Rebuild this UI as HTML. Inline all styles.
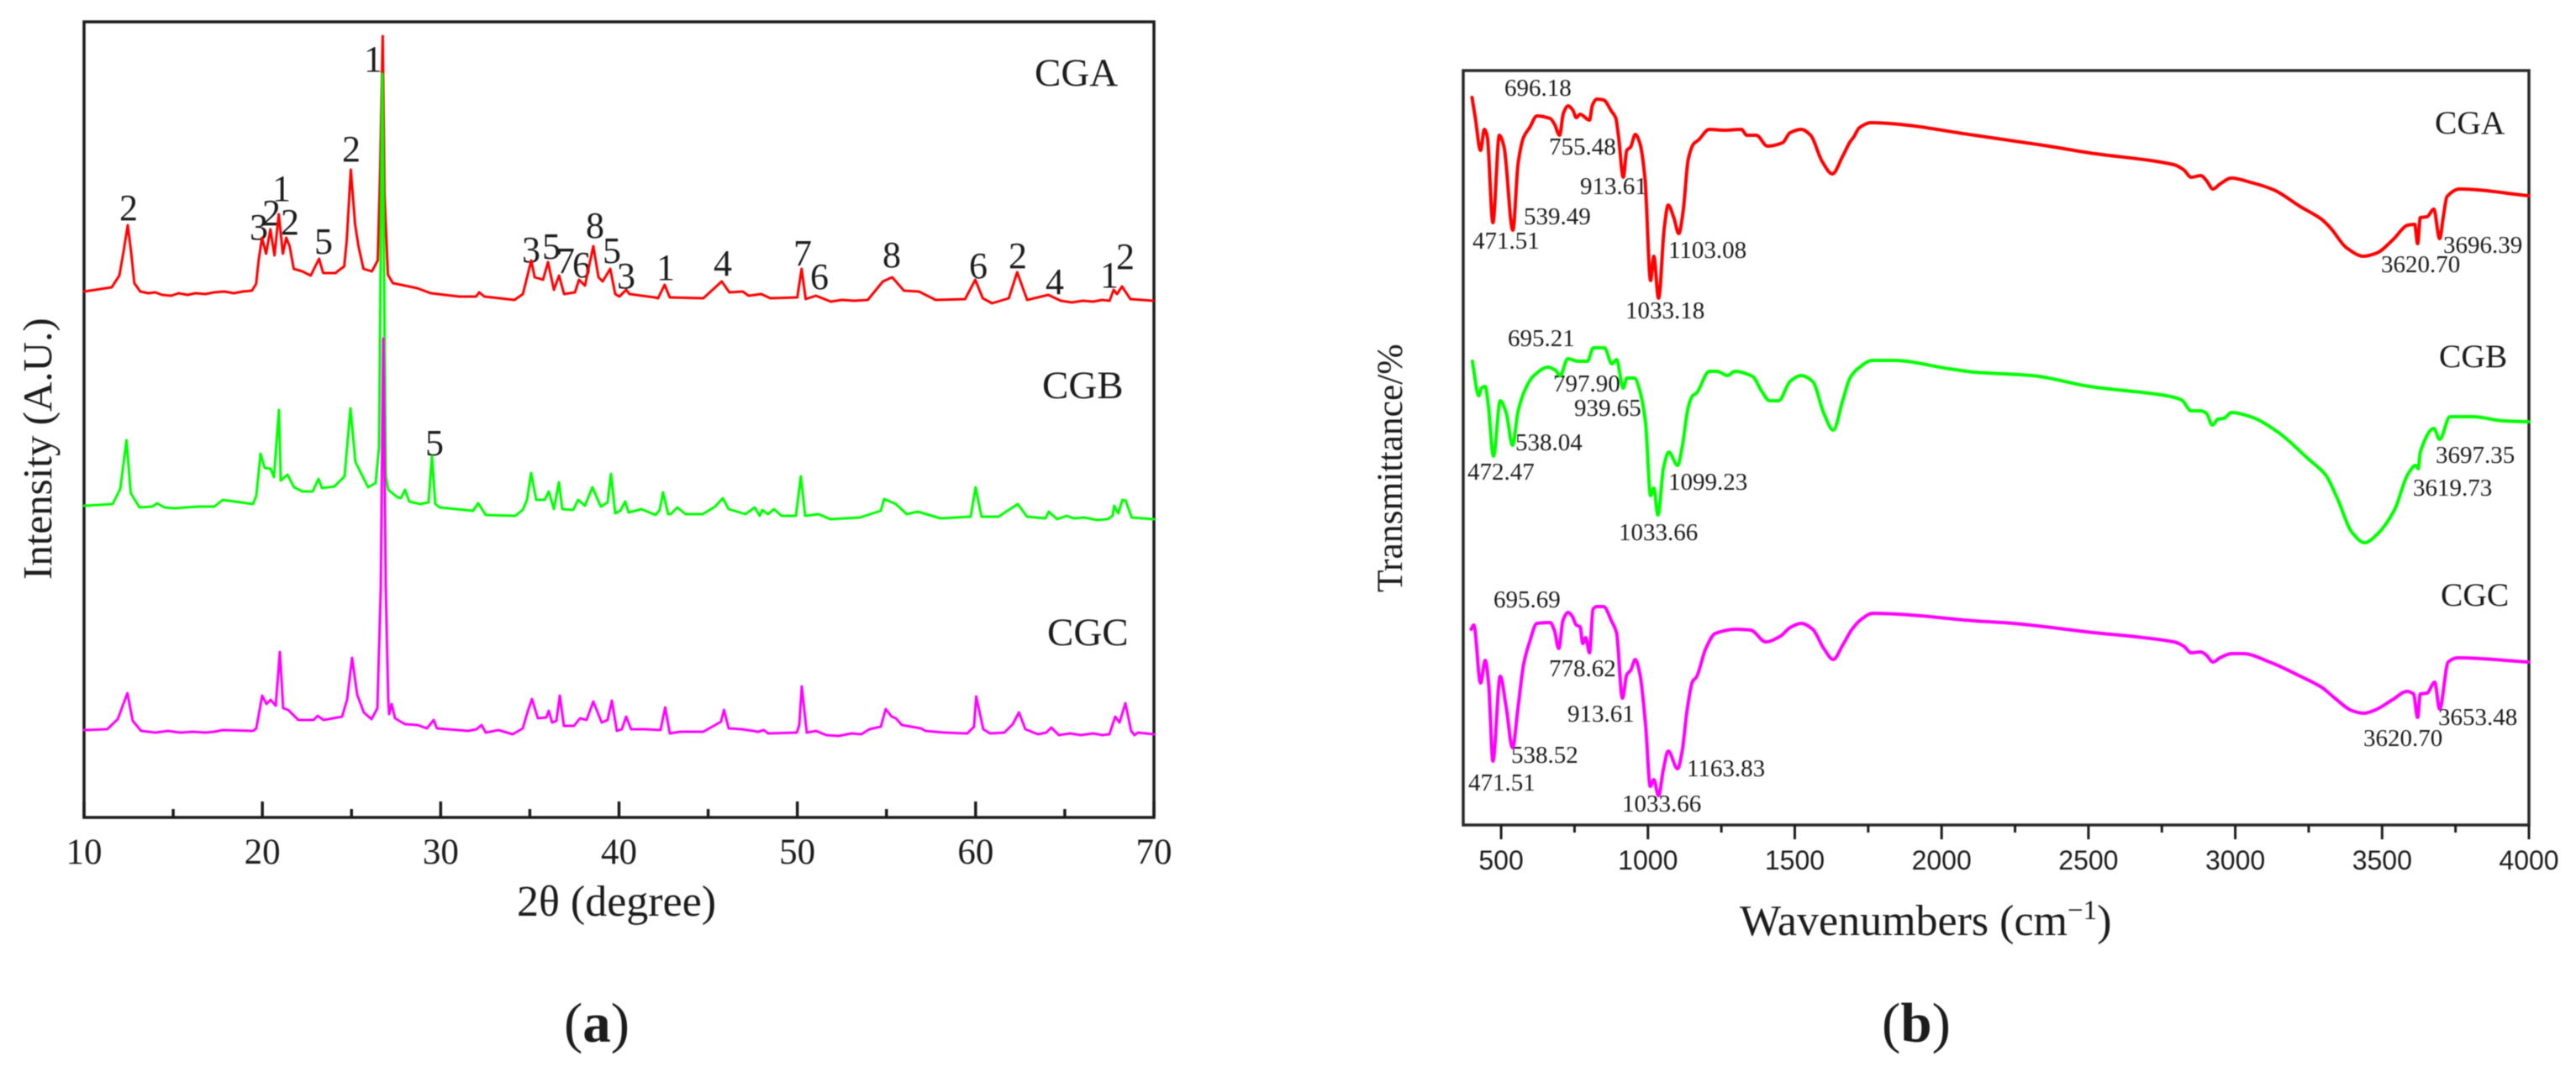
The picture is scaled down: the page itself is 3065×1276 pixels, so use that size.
<!DOCTYPE html>
<html lang="en">
<head>
<meta charset="utf-8">
<title>XRD and FTIR spectra of CGA, CGB and CGC</title>
<style>
html,body{margin:0;padding:0;background:#fff;}
svg{display:block;filter:blur(0.6px);}
text{font-family:"Liberation Serif",serif;fill:#1c1c1c;}
.num{font-size:44px;text-anchor:middle;}
.ft{font-size:29px;}
.tick-a{font-size:43px;text-anchor:middle;}
.tick-b{font-family:"Liberation Sans",sans-serif;font-size:32px;text-anchor:middle;}
</style>
</head>
<body>
<svg id="fig" xmlns="http://www.w3.org/2000/svg" width="3065" height="1276" viewBox="0 0 3065 1276">
<rect width="3065" height="1276" fill="#fff"/>
<g id="panelA">
<rect x="100" y="26" width="1273" height="947" fill="none" stroke="#1c1c1c" stroke-width="3.5"/>
<text transform="translate(61,690) rotate(-90)" font-size="49">Intensity (A.U.)</text>
<text x="615" y="1090" font-size="52">2θ (degree)</text>
<text x="710" y="1240" font-size="67" text-anchor="middle">(<tspan font-weight="bold">a</tspan>)</text>
<text class="sample" x="1231" y="102" font-size="47">CGA</text>
<text class="sample" x="1240" y="474" font-size="47">CGB</text>
<text class="sample" x="1246" y="768" font-size="47">CGC</text>
<g>
<text class="num" x="153" y="262">2</text>
<text class="num" x="308" y="285">3</text>
<text class="num" x="323" y="268">2</text>
<text class="num" x="335" y="239">1</text>
<text class="num" x="345" y="279">2</text>
<text class="num" x="385" y="302">5</text>
<text class="num" x="444" y="85">1</text>
<text class="num" x="418" y="192">2</text>
<text class="num" x="632" y="312">3</text>
<text class="num" x="656" y="308">5</text>
<text class="num" x="673" y="325">7</text>
<text class="num" x="692" y="330">6</text>
<text class="num" x="708" y="283">8</text>
<text class="num" x="728" y="313">5</text>
<text class="num" x="745" y="343">3</text>
<text class="num" x="792" y="333">1</text>
<text class="num" x="860" y="328">4</text>
<text class="num" x="955" y="316">7</text>
<text class="num" x="975" y="344">6</text>
<text class="num" x="1061" y="318">8</text>
<text class="num" x="1164" y="331">6</text>
<text class="num" x="1211" y="319">2</text>
<text class="num" x="1255" y="350">4</text>
<text class="num" x="1320" y="342">1</text>
<text class="num" x="1339" y="320">2</text>
<text class="num" x="517" y="542">5</text>
</g>
</g>
<g id="panelB">
<rect x="1741" y="84" width="1268" height="898" fill="none" stroke="#2a2a2a" stroke-width="3.5"/>
<text transform="translate(1668,705) rotate(-90)" font-size="43.5">Transmittance/%</text>
<text x="2070" y="1113" font-size="52">Wavenumbers (cm<tspan font-size="33" dy="-19">−1</tspan><tspan dy="19">)</tspan></text>
<text x="2280" y="1240" font-size="67" text-anchor="middle">(<tspan font-weight="bold">b</tspan>)</text>
<text class="sample" x="2897" y="159" font-size="39.5">CGA</text>
<text class="sample" x="2902" y="437" font-size="39.5">CGB</text>
<text class="sample" x="2904" y="721" font-size="39.5">CGC</text>
<g>
<text class="ft" x="1790" y="114">696.18</text>
<text class="ft" x="1843" y="184">755.48</text>
<text class="ft" x="1880" y="231">913.61</text>
<text class="ft" x="1813" y="267">539.49</text>
<text class="ft" x="1752" y="296">471.51</text>
<text class="ft" x="1985" y="307">1103.08</text>
<text class="ft" x="1934" y="379">1033.18</text>
<text class="ft" x="1794" y="412">695.21</text>
<text class="ft" x="1848" y="466">797.90</text>
<text class="ft" x="1873" y="495">939.65</text>
<text class="ft" x="1803" y="536">538.04</text>
<text class="ft" x="1746" y="571">472.47</text>
<text class="ft" x="1985" y="583">1099.23</text>
<text class="ft" x="1926" y="643">1033.66</text>
<text class="ft" x="1777" y="723">695.69</text>
<text class="ft" x="1843" y="805">778.62</text>
<text class="ft" x="1865" y="859">913.61</text>
<text class="ft" x="1798" y="908">538.52</text>
<text class="ft" x="1747" y="941">471.51</text>
<text class="ft" x="2007" y="924">1163.83</text>
<text class="ft" x="1930" y="966">1033.66</text>
<text class="ft" x="2907" y="301">3696.39</text>
<text class="ft" x="2833" y="324">3620.70</text>
<text class="ft" x="2898" y="551">3697.35</text>
<text class="ft" x="2871" y="590">3619.73</text>
<text class="ft" x="2901" y="863">3653.48</text>
<text class="ft" x="2812" y="888">3620.70</text>
</g>
</g>
</svg>
<script>
// XRD data: 2-theta (degree) and intensity (a.u., stacked offsets included)
const xrdTickLabels = [10, 20, 30, 40, 50, 60, 70];
const xrdMinorTicks = [15, 25, 35, 45, 55, 65];
const cgaTheta = [10,11.55,11.98,12.21,12.45,12.64,12.82,13.15,13.6,14.0,14.38,14.9,15.3,15.8,16.26,16.8,17.3,17.86,18.4,18.9,19.41,19.65,19.79,19.98,20.21,20.45,20.68,20.92,21.15,21.34,21.53,21.76,22.24,22.71,23.18,23.41,24.12,24.21,24.59,24.73,24.96,25.2,25.39,25.67,26.14,26.47,26.61,26.75,26.85,27.04,27.32,28.68,29.44,31.04,31.98,32.16,32.45,34.14,34.61,35.08,35.27,35.74,36.02,36.35,36.64,36.92,37.53,37.76,38.09,38.56,38.85,39.08,39.51,39.79,40.02,40.4,40.59,42,42.19,42.56,42.85,44.73,45.76,46.19,46.94,47.27,47.98,48.49,50,50.24,50.47,51.04,51.88,52.5,53.2,53.95,54.8,55.32,55.98,56.82,57.76,59.41,59.98,60.4,60.92,61.86,62.33,62.89,64.07,64.78,65.4,66,66.6,67.1,67.51,67.74,67.93,68.21,68.68,69.95];
const cgaIntensity = [626,631,645,673,705,673,636,626,624,625,622,621,624,622,624,623,625,626,624,626,627,635,663,690,671,700,669,718,671,690,680,653,650,645,665,648,648,650,656,686,771,706,680,653,650,663,773,930,740,646,636,630,624,620,620,625,620,616,623,663,643,640,661,628,645,623,625,640,633,680,643,638,653,623,620,628,623,619,618,634,619,618,638,625,626,621,623,618,619,653,617,621,614,616,615,616,638,643,627,626,616,617,640,618,612,618,649,616,622,615,613,615,614,616,615,628,623,632,617,615];
const cgbTheta = [10,11.6,12.03,12.38,12.62,13.11,13.82,14.1,14.5,15.1,15.7,16.4,17.3,17.78,19.47,19.66,19.9,20.13,20.46,20.65,20.93,21.03,21.41,21.78,22.25,22.82,23.15,23.34,24.04,24.61,24.94,25.22,25.93,26.35,26.54,26.73,26.92,27.06,27.58,27.77,28,28.24,28.85,29.32,29.51,29.7,29.94,31.82,32.1,32.53,34.18,34.6,34.84,35.07,35.36,35.83,36.06,36.35,36.63,36.82,37.43,37.71,38.09,38.51,38.98,39.36,39.55,39.79,40.07,40.35,40.54,41.25,42.05,42.28,42.47,42.76,42.9,43.27,43.74,44.69,45.39,45.82,46.15,47.09,47.61,47.89,48.03,48.36,48.69,49.12,49.92,50.2,50.44,51.19,51.85,53.5,54.68,54.87,55.53,56.14,56.75,58.03,59.72,60,60.33,61.28,62.36,62.88,63.92,64.1,64.57,65.1,65.5,66.1,66.8,67.4,67.68,67.77,68,68.23,68.42,68.75,70];
const cgbIntensity = [371,373,391,449,386,369,370,374,369,368,369,370,370,378,373,383,433,416,415,405,485,401,408,393,388,388,403,392,394,406,487,423,393,398,440,885,406,390,381,380,390,376,373,375,430,373,369,365,374,360,359,366,378,410,378,378,388,367,399,367,366,378,371,393,370,375,409,362,365,376,363,367,360,366,387,361,361,369,361,361,370,380,367,361,369,359,366,361,367,359,359,406,359,361,355,357,365,379,373,361,364,356,358,393,358,358,373,358,356,364,355,359,356,357,354,355,359,371,362,378,377,357,355];
const cgcTheta = [10,11.3,11.89,12.43,12.73,13.2,14,14.7,15.4,16.1,16.8,17.3,17.78,19.47,19.66,19.99,20.23,20.46,20.75,20.98,21.17,21.45,22.02,22.87,23.1,23.43,24.47,24.75,25.03,25.32,25.69,26.12,26.45,26.64,26.78,26.92,27.06,27.11,27.25,27.44,28,28.71,29.23,29.61,29.79,31.54,32.01,32.29,32.53,33.24,34.04,34.6,34.88,35.12,35.45,35.92,36.06,36.25,36.49,36.68,36.91,37.48,37.81,38.18,38.56,39.03,39.36,39.6,39.88,40.16,40.4,40.68,41.44,42.33,42.59,42.85,43.42,44.73,45.39,45.72,45.89,46.15,46.9,47.8,48.13,48.36,49.97,50.11,50.25,50.53,51.05,51.62,52.32,53.03,53.59,54.04,54.68,54.96,55.29,55.53,55.86,56.94,57.18,58.26,59.53,59.91,60.03,60.43,60.81,61.61,62.08,62.43,62.79,63.49,63.96,64.24,64.67,65.3,65.9,66.6,67.1,67.5,67.83,68.07,68.4,68.72,68.91,69.1,70];
const cgcIntensity = [104,105,117,148,115,103,101,103,101,102,101,102,104,103,106,145,135,140,133,197,130,128,116,116,121,116,120,140,190,146,125,117,130,273,570,273,140,123,135,118,111,110,106,116,106,103,105,110,101,104,99,106,126,141,118,119,127,113,115,145,109,109,118,116,138,113,116,139,103,105,120,105,105,104,131,100,102,102,110,114,128,106,105,102,104,100,101,110,156,101,103,98,97,100,99,105,108,129,120,118,110,106,103,101,100,108,144,105,100,101,111,125,105,99,101,107,98,100,98,100,98,99,120,113,136,103,98,101,99];

// FTIR data: wavenumber (cm-1) and transmittance (a.u., stacked offsets included)
const ftirTickLabels = [500, 1000, 1500, 2000, 2500, 3000, 3500, 4000];
const ftirMinorTicks = [750, 1250, 1750, 2250, 2750, 3250, 3750];
const ftirCgaWave = [401,412,430,443,453,472,494,510,540,558,577,597,622,667,682,699,712,728,744,756,769,801,811,826,849,877,890,900,916,928,941,957,973,990,1009,1020,1036,1056,1069,1088,1105,1120,1137,1156,1171,1209,1260,1318,1337,1369,1407,1458,1484,1522,1554,1593,1628,1663,1688,1701,1720,1759,1823,2112,2347,2504,2791,2824,2850,2883,2902,2924,2948,2987,3052,3131,3222,3294,3326,3379,3437,3483,3535,3588,3611,3621,3630,3653,3676,3696,3708,3721,3764,3999];
const ftirCgaT = [866,842,803,828,819,717,821,807,708,788,819,830,844,841,834,821,847,856,851,842,846,839,857,864,863,849,842,819,771,803,807,822,811,769,648,677,627,712,738,723,704,731,792,811,815,828,827,828,821,821,808,812,824,828,821,790,775,796,813,819,830,836,835,821,809,800,786,780,771,773,767,757,763,770,765,756,736,721,710,687,677,681,696,714,715,692,723,724,733,698,723,748,757,749];
const ftirCgbWave = [402,424,433,446,456,474,497,517,539,558,584,609,660,686,701,727,762,794,814,852,877,893,916,928,954,973,992,1009,1020,1034,1053,1071,1101,1117,1137,1152,1165,1209,1235,1271,1296,1356,1388,1414,1445,1484,1522,1561,1599,1631,1663,1688,1714,1765,1835,2027,2112,2308,2504,2765,2817,2850,2883,2902,2922,2941,2961,2987,3052,3144,3248,3307,3346,3398,3441,3483,3542,3587,3614,3623,3630,3676,3696,3731,3809,3914,3999];
const ftirCgbT = [552,511,520,522,501,439,505,491,452,493,520,534,545,541,535,555,552,552,568,568,549,554,520,532,532,516,478,392,401,369,425,444,428,451,497,511,514,540,540,535,540,534,516,505,505,528,535,528,490,470,505,532,543,553,553,543,539,535,522,511,506,493,493,490,476,483,484,491,486,468,436,417,390,348,336,346,375,417,428,424,444,472,459,486,486,481,480];
const ftirCgcWave = [398,407,430,446,458,472,497,517,539,558,577,597,622,667,682,696,711,728,743,756,769,778,788,801,813,826,849,877,893,913,928,941,957,973,992,1008,1020,1036,1053,1069,1101,1117,1133,1152,1165,1197,1229,1299,1350,1401,1452,1484,1522,1561,1599,1631,1663,1695,1727,1765,1849,2112,2243,2491,2791,2824,2850,2883,2902,2924,2948,2987,3026,3117,3222,3294,3339,3398,3437,3477,3535,3585,3607,3621,3630,3653,3679,3696,3725,3757,3999];
const ftirCgcT = [233,238,169,196,166,76,177,141,92,141,192,218,240,241,231,210,244,253,248,238,236,216,223,205,257,260,260,242,229,151,179,184,197,179,119,46,54,35,67,88,67,89,136,171,176,210,228,233,232,218,225,235,240,233,210,197,214,233,245,252,251,243,240,230,218,213,205,206,202,194,199,204,204,194,177,164,151,136,133,137,149,159,156,128,156,157,170,138,194,199,194];

const SVG_NS = "http://www.w3.org/2000/svg";
const panelA = document.getElementById("panelA");
const panelB = document.getElementById("panelB");

function xrdX(theta) { return 100 + (theta - 10) * (1273 / 60); }
function xrdY(v) { return 973 - v; }
function ftirX(w) { return 1741 + (w - 371) * (1268 / 3629); }
function ftirY(t) { return 982 - t; }

function linePath(xs, ys, sx, sy) {
  let d = "";
  for (let i = 0; i < xs.length; i++) {
    d += (i ? "L" : "M") + sx(xs[i]).toFixed(2) + " " + sy(ys[i]).toFixed(2);
  }
  return d;
}
// Monotone cubic path: smooth between points, never overshoots a peak.
function smoothPath(xs, ys, sx, sy) {
  const px = xs.map(sx);
  const py = ys.map(sy);
  const n = px.length;
  const slope = [];
  for (let i = 0; i < n - 1; i++) {
    slope.push((py[i + 1] - py[i]) / (px[i + 1] - px[i]));
  }
  const tan = [slope[0]];
  for (let i = 1; i < n - 1; i++) {
    tan.push(slope[i - 1] * slope[i] <= 0 ? 0 : 2 * slope[i - 1] * slope[i] / (slope[i - 1] + slope[i]));
  }
  tan.push(slope[n - 2]);
  let d = "M" + px[0].toFixed(2) + " " + py[0].toFixed(2);
  for (let i = 0; i < n - 1; i++) {
    const h = (px[i + 1] - px[i]) / 3;
    d += "C" + (px[i] + h).toFixed(2) + " " + (py[i] + tan[i] * h).toFixed(2) + " " +
         (px[i + 1] - h).toFixed(2) + " " + (py[i + 1] - tan[i + 1] * h).toFixed(2) + " " +
         px[i + 1].toFixed(2) + " " + py[i + 1].toFixed(2);
  }
  return d;
}
function makeLine(parent, d, color, width) {
  const p = document.createElementNS(SVG_NS, "path");
  p.setAttribute("d", d);
  p.setAttribute("fill", "none");
  p.setAttribute("stroke", color);
  p.setAttribute("stroke-width", width);
  p.setAttribute("stroke-linejoin", "round");
  p.setAttribute("stroke-linecap", "round");
  parent.appendChild(p);
  return p;
}
function makeTick(parent, x, y1, y2, w) {
  const l = document.createElementNS(SVG_NS, "line");
  l.setAttribute("x1", x);
  l.setAttribute("x2", x);
  l.setAttribute("y1", y1);
  l.setAttribute("y2", y2);
  l.setAttribute("stroke", "#1c1c1c");
  l.setAttribute("stroke-width", w);
  parent.appendChild(l);
  return l;
}
function makeText(parent, x, y, cls, str) {
  const t = document.createElementNS(SVG_NS, "text");
  t.setAttribute("x", x);
  t.setAttribute("y", y);
  t.setAttribute("class", cls);
  t.textContent = str;
  parent.appendChild(t);
  return t;
}

// XRD axis
xrdTickLabels.forEach(function (v) {
  const tick = makeTick(panelA, xrdX(v), 973, 954, 3.5);
  
  
  const label = makeText(panelA, xrdX(v), 1028, "tick-a", String(v));
  
  
});
xrdMinorTicks.forEach(function (v) {
  const tick = makeTick(panelA, xrdX(v), 973, 963, 3.5);
  
  
});

// XRD series
const xrdCga = makeLine(panelA, linePath(cgaTheta, cgaIntensity, xrdX, xrdY), "#ff0000", 3);


const xrdCgb = makeLine(panelA, linePath(cgbTheta, cgbIntensity, xrdX, xrdY), "#00ff00", 3);


const xrdCgc = makeLine(panelA, linePath(cgcTheta, cgcIntensity, xrdX, xrdY), "#ff00ff", 3);



// FTIR axis
ftirTickLabels.forEach(function (v) {
  const tick = makeTick(panelB, ftirX(v), 982, 999, 3);
  
  
  const label = makeText(panelB, ftirX(v), 1035, "tick-b", String(v));
  
  
});
ftirMinorTicks.forEach(function (v) {
  const tick = makeTick(panelB, ftirX(v), 982, 991, 3);
  
  
});

// FTIR series
const ftirCga = makeLine(panelB, smoothPath(ftirCgaWave, ftirCgaT, ftirX, ftirY), "#ff0000", 4);


const ftirCgb = makeLine(panelB, smoothPath(ftirCgbWave, ftirCgbT, ftirX, ftirY), "#00ff00", 4);


const ftirCgc = makeLine(panelB, smoothPath(ftirCgcWave, ftirCgcT, ftirX, ftirY), "#ff00ff", 4);


</script>
</body>
</html>
